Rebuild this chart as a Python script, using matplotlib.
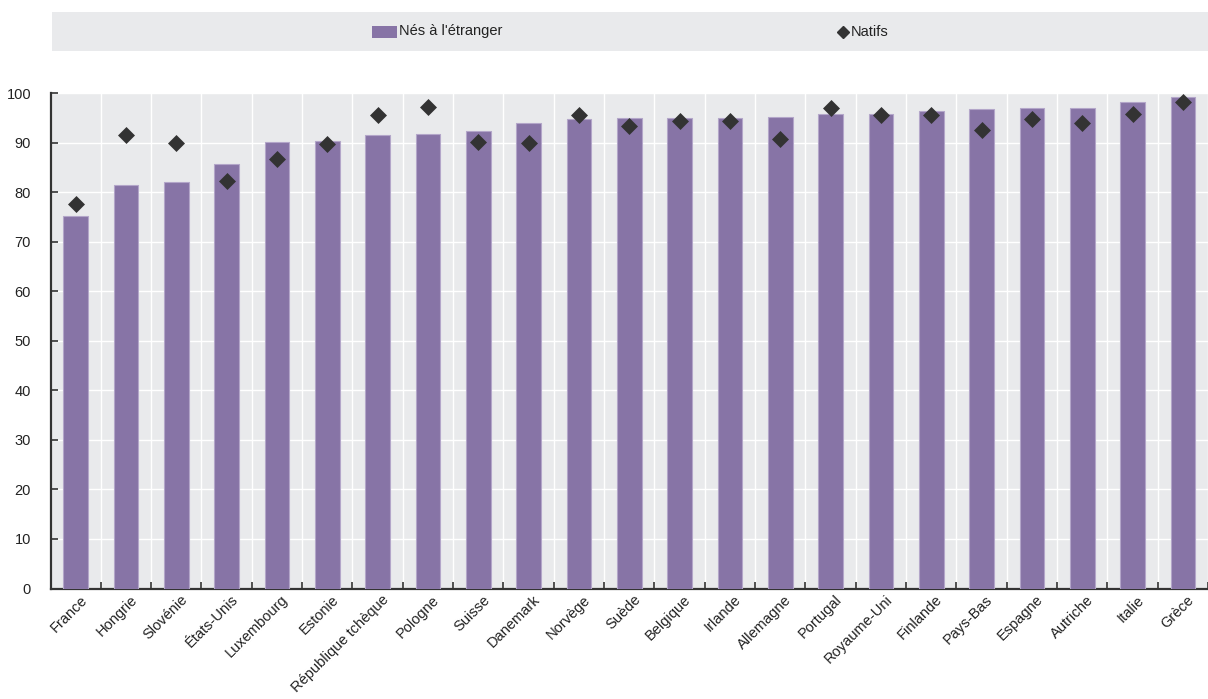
import matplotlib
matplotlib.use("Agg")
import matplotlib.pyplot as plt
import matplotlib.transforms as mtransforms
from matplotlib.patches import Rectangle
from matplotlib.lines import Line2D
import numpy as np

categories = ["France", "Hongrie", "Slovénie", "États-Unis", "Luxembourg", "Estonie",
              "République tchèque", "Pologne", "Suisse", "Danemark", "Norvège", "Suède",
              "Belgique", "Irlande", "Allemagne", "Portugal", "Royaume-Uni", "Finlande",
              "Pays-Bas", "Espagne", "Autriche", "Italie", "Grèce"]
foreign_born = [75.3, 81.5, 82.0, 85.7, 90.1, 90.3, 91.6, 91.8, 92.4, 94.1, 94.8, 95.0,
                95.1, 95.1, 95.2, 95.8, 95.9, 96.5, 96.8, 97.0, 97.1, 98.3, 99.3]
native = [77.7, 91.5, 89.9, 82.2, 86.7, 89.7, 95.6, 97.2, 90.1, 89.9, 95.6, 93.3,
          94.5, 94.5, 90.8, 97.1, 95.6, 95.6, 92.5, 94.8, 94.0, 95.9, 98.2]
yticks = [0, 10, 20, 30, 40, 50, 60, 70, 80, 90, 100]
series_labels = ["Nés à l'étranger", "Natifs"]

BAR = "#8774A6"
BAR_EDGE = "#B3A6C9"
BG = "#E9EAEC"
DARK = "#333333"

plt.rcParams['font.family'] = ['Liberation Sans', 'DejaVu Sans']

W, H = 1208, 699
fig = plt.figure(figsize=(W / 100, H / 100), dpi=100)
ax = fig.add_axes([50.5 / W, 1 - 588.5 / H, 1 - 50.5 / W, (588.5 - 93.3) / H])
ax.set_facecolor(BG)

x = np.arange(len(categories))
ax.bar(x, foreign_born, width=0.49, color=BAR, edgecolor=BAR_EDGE, linewidth=0.8, zorder=3)
ax.scatter(x, native, marker="D", s=75, color=DARK, zorder=4, linewidths=0)

ax.set_xlim(-0.5, 22.39)
ax.set_ylim(0, 100)
ax.set_yticks(yticks)
ax.set_yticklabels([str(v) for v in yticks])

ax.set_xticks(x)
ax.set_xticklabels(categories, rotation=45, ha="right", rotation_mode="anchor")
ax.set_xticks(np.arange(-0.5, len(categories), 1.0), minor=True)
ax.tick_params(axis="x", which="major", length=0, pad=3, labelsize=10.5, labelcolor="#222222")
ax.tick_params(axis="x", which="minor", direction="in", length=5, width=1.2, color=DARK)
ax.tick_params(axis="y", direction="in", length=5, width=1.2, color=DARK, pad=14,
               labelsize=10.5, labelcolor="#222222")
offset = mtransforms.ScaledTranslation(3 / 72, 0, fig.dpi_scale_trans)
for lbl in ax.get_xticklabels():
    lbl.set_transform(lbl.get_transform() + offset)

ax.grid(True, which="minor", axis="x", color="white", linewidth=1.0, zorder=1)
ax.grid(True, which="major", axis="y", color="white", linewidth=1.0, zorder=1)
ax.set_axisbelow(True)

for s in ["top", "right"]:
    ax.spines[s].set_visible(False)
for s in ["left", "bottom"]:
    ax.spines[s].set_color(DARK)
    ax.spines[s].set_linewidth(1.6)

# legend band
fig.patches.append(Rectangle((52 / W, 1 - 51 / H), 1 - 52 / W, 39 / H,
                             transform=fig.transFigure, facecolor=BG, edgecolor="none", zorder=0))
fig.patches.append(Rectangle((372 / W, 1 - 37.5 / H), 25 / W, 11.5 / H,
                             transform=fig.transFigure, facecolor=BAR, edgecolor="none", zorder=1))
fig.text(399 / W, 1 - 31.5 / H, series_labels[0], fontsize=10.5, color="#222222",
         ha="left", va="center")
fig.add_artist(Line2D([843 / W], [1 - 31.5 / H], marker="D", markersize=6.5, color=DARK,
                      transform=fig.transFigure, linestyle="none"))
fig.text(851 / W, 1 - 31.5 / H, series_labels[1], fontsize=10.5, color="#222222",
         ha="left", va="center")

fig.savefig("out.png", dpi=100)
